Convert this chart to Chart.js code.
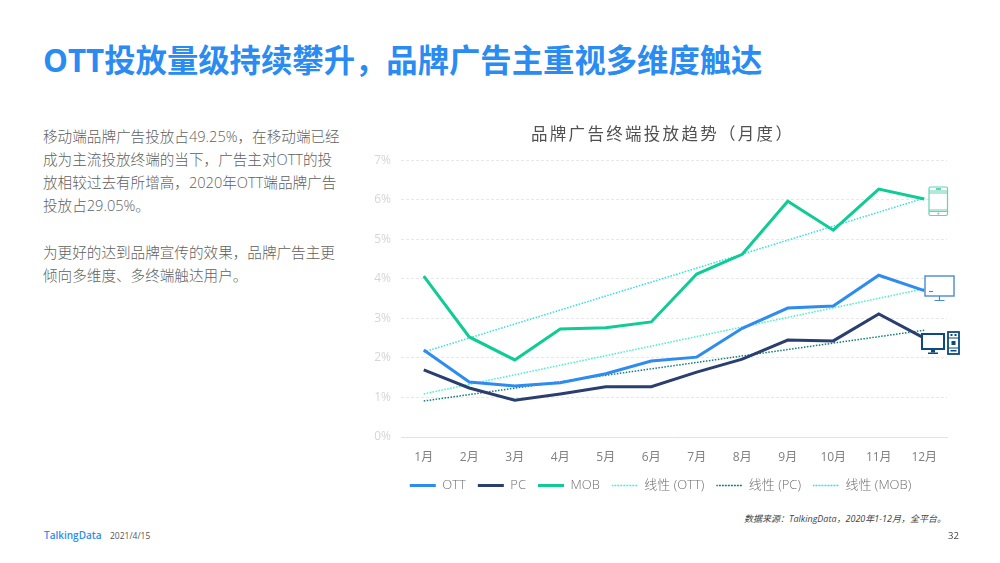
<!DOCTYPE html>
<html lang="zh-CN">
<head>
<meta charset="UTF-8">
<title>OTT投放量级持续攀升</title>
<script src="https://cdn.jsdelivr.net/npm/chart.js"></script>
<style>
    html, body { margin: 0; padding: 0; background: #fff; }
    body { width: 1000px; height: 563px; position: relative; overflow: hidden; font-family: "Open Sans", "Noto Sans CJK SC", sans-serif; }
    .abs { position: absolute; white-space: nowrap; }
    #headline { left: 43px; top: 39px; font-size: 31.35px; line-height: 42px; font-weight: 700; color: #2a8cf2; }
    #body-text { left: 43px; top: 124.5px; font-size: 14.6px; line-height: 23.2px; color: #5f5f5f; font-weight: 300; }
    #chart-title { left: 531px; top: 122px; font-size: 16.5px; line-height: 24px; letter-spacing: 2.3px; color: #505050; z-index: 1; }
    #chart-wrap { position: absolute; left: 360px; top: 143px; width: 608px; height: 359px; }
    #source { right: 54px; top: 512px; font-size: 9px; line-height: 14px; font-style: italic; color: #444; }
    #logo { left: 44px; top: 528px; font-size: 10px; line-height: 15px; font-weight: 600; color: #2a8cf2; }
    #date { left: 110px; top: 529px; font-size: 8.5px; line-height: 14px; color: #555; }
    #page { left: 948px; top: 529px; font-size: 9.5px; line-height: 14px; color: #444; }
    svg.icon { position: absolute; }
</style>
</head>
<body>
<div class="abs" id="headline">OTT投放量级持续攀升&#xFF0C;品牌广告主重视多维度触达</div>
<div class="abs" id="body-text">移动端品牌广告投放占49.25%&#xFF0C;在移动端已经<br>成为主流投放终端的当下&#xFF0C;广告主对OTT的投<br>放相较过去有所增高&#xFF0C;2020年OTT端品牌广告<br>投放占29.05%&#x3002;<br><br>为更好的达到品牌宣传的效果&#xFF0C;品牌广告主更<br>倾向多维度&#x3001;多终端触达用户&#x3002;</div>
<div class="abs" id="chart-title">品牌广告终端投放趋势&#xFF08;月度&#xFF09;</div>
<div id="chart-wrap"><canvas id="trendChart" width="608" height="359"></canvas></div>

<!-- device icons at the end of each line -->
<svg class="icon" style="left:928px;top:186px" width="21" height="31" viewBox="0 0 21 31" fill="none" stroke="#63d3b4" stroke-width="1.2">
    <rect x="1" y="1" width="18.5" height="28.5" rx="1.5" fill="#fff"/>
    <path d="M1 5h18.5M1 7h18.5M1 24h18.5M1 25.5h18.5"/>
    <rect x="8" y="2" width="5" height="2" fill="#63d3b4" stroke="none"/>
    <circle cx="10.3" cy="27.5" r="1" fill="#63d3b4" stroke="none"/>
</svg>
<svg class="icon" style="left:924px;top:275px" width="32" height="27" viewBox="0 0 32 27" fill="none" stroke="#4a8ad4">
    <rect x="1" y="1" width="29" height="20" fill="#fff" stroke-width="1.4"/>
    <path d="M5 16.5h4" stroke-width="1.2"/>
    <path d="M15.5 21v4M10.5 25.5h10" stroke-width="1.2"/>
</svg>
<svg class="icon" style="left:920px;top:331px" width="40" height="24" viewBox="0 0 40 24">
    <rect x="2" y="3" width="22" height="15" fill="#fff" stroke="#0c4a80" stroke-width="2"/>
    <rect x="11" y="18.5" width="4" height="3" fill="#0c4a80"/>
    <rect x="8" y="21.5" width="10" height="1.5" fill="#0c4a80"/>
    <rect x="28" y="1" width="11" height="22" fill="#fff" stroke="#0c4a80" stroke-width="1.8"/>
    <path d="M28 7h11M28 17h11" stroke="#0c4a80" stroke-width="1"/>
    <rect x="30.5" y="3" width="2" height="2" fill="#0c4a80"/>
    <rect x="34.5" y="3" width="2" height="2" fill="#0c4a80"/>
    <rect x="31.5" y="10" width="4" height="4" fill="#0c4a80"/>
    <rect x="30.5" y="19" width="6" height="1.5" fill="#0c4a80"/>
</svg>

<div class="abs" id="source">数据来源&#xFF1A;TalkingData&#xFF0C;2020年1-12月&#xFF0C;全平台&#x3002;</div>
<div class="abs" id="logo">TalkingData</div>
<div class="abs" id="date">2021/4/15</div>
<div class="abs" id="page">32</div>

<script>
    const months = ['1月', '2月', '3月', '4月', '5月', '6月', '7月', '8月', '9月', '10月', '11月', '12月'];
    const ottValues = [2.2, 1.39, 1.29, 1.37, 1.6, 1.92, 2.02, 2.75, 3.26, 3.31, 4.09, 3.7];
    const pcValues = [1.7, 1.24, 0.93, 1.09, 1.27, 1.27, 1.64, 1.97, 2.45, 2.43, 3.11, 2.5];
    const mobValues = [4.07, 2.53, 1.95, 2.73, 2.76, 2.91, 4.12, 4.62, 5.96, 5.23, 6.27, 6.02];
    const ottTrend = [1.09, null, null, null, null, null, null, null, null, null, null, 3.75];
    const pcTrend = [0.91, null, null, null, null, null, null, null, null, null, null, 2.7];
    const mobTrend = [2.15, null, null, null, null, null, null, null, null, null, null, 6.04];
    const yTicks = [0, 1, 2, 3, 4, 5, 6, 7];

    function solid(label, data, color) {
        return { label, data, borderColor: color, backgroundColor: color, borderWidth: 3, pointRadius: 0, tension: 0, borderJoinStyle: 'miter' };
    }
    function dotted(label, data, color) {
        return { label, data, borderColor: color, backgroundColor: color, borderWidth: 1.5, borderDash: [1.5, 1.5], pointRadius: 0, spanGaps: true, tension: 0 };
    }

    new Chart(document.getElementById('trendChart'), {
        type: 'line',
        data: {
            labels: months,
            datasets: [
                solid('OTT', ottValues, '#2e8cf0'),
                solid('PC', pcValues, '#2a3f70'),
                solid('MOB', mobValues, '#0fcb94'),
                dotted('线性 (OTT)', ottTrend, '#3df5c6'),
                dotted('线性 (PC)', pcTrend, '#0b7f78'),
                dotted('线性 (MOB)', mobTrend, '#2fe0e6')
            ]
        },
        options: {
            responsive: false,
            animation: false,
            // left padding pulls the legend's centre towards the plot centre
            layout: { padding: { top: 2, right: 21, left: 14, bottom: 0 } },
            plugins: {
                title: { display: false },
                tooltip: { enabled: false },
                legend: {
                    position: 'bottom',
                    labels: {
                        boxWidth: 26,
                        boxHeight: 0,
                        padding: 12,
                        color: '#6e6e6e',
                        font: { size: 13, family: '"Open Sans", "Noto Sans CJK SC", sans-serif', weight: 300 }
                    }
                }
            },
            scales: {
                x: {
                    offset: true,
                    afterFit(axis) { axis.height = 30; },
                    grid: { display: false, drawTicks: false },
                    border: { color: '#e3e3e3' },
                    ticks: { color: '#7f7f7f', padding: 13, maxRotation: 0, autoSkip: false, font: { size: 12, family: '"Open Sans", "Noto Sans CJK SC", sans-serif' } }
                },
                y: {
                    min: 0,
                    max: 7,
                    afterFit(axis) { axis.width = 27; },
                    afterBuildTicks(axis) { axis.ticks = yTicks.map(v => ({ value: v })); },
                    grid: { color: '#e8e8e8', drawTicks: false, tickLength: 0 },
                    border: { display: false, dash: [3, 2] },
                    ticks: {
                        color: '#d6d6d6',
                        padding: 10,
                        font: { size: 12, family: '"Open Sans", sans-serif' },
                        callback: v => v + '%'
                    }
                }
            }
        }
    });
</script>
</body>
</html>
